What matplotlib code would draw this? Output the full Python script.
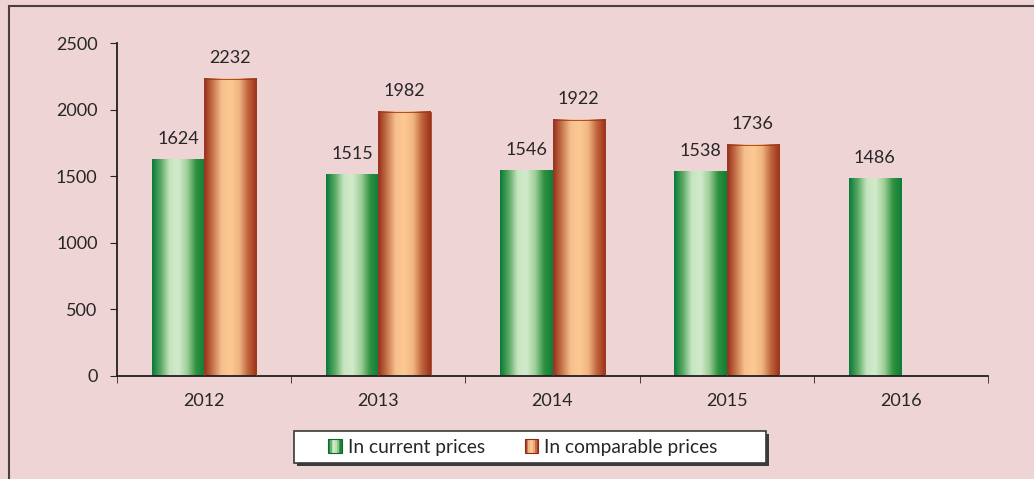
import numpy as np
import matplotlib
matplotlib.use("Agg")
import matplotlib.pyplot as plt
from matplotlib.colors import LinearSegmentedColormap
from matplotlib.patches import Rectangle
from matplotlib.legend_handler import HandlerBase
import matplotlib.patheffects as pe

years = ['2012', '2013', '2014', '2015', '2016']
current = [1624, 1515, 1546, 1538, 1486]
comparable = [2232, 1982, 1922, 1736, None]
series_names = ['In current prices', 'In comparable prices']

plt.rcParams['font.family'] = ['Lato', 'DejaVu Sans']

bg = '#efd4d5'
txt = '#262626'
fs = 13
green = LinearSegmentedColormap.from_list(
    'g', ['#067a38', '#5aa963', '#c6e5c0', '#d2ebcb', '#9fcf98', '#2f9140', '#0d7d38'])
orange = LinearSegmentedColormap.from_list(
    'o', ['#962c18', '#c7754c', '#f6c08e', '#fdc991', '#f0b582', '#c0643c', '#9a3018'])
grad = np.linspace(0, 1, 256).reshape(1, -1)

fig = plt.figure(figsize=(10.34, 4.79), dpi=100)
fig.patch.set_facecolor(bg)
W, H = 1034, 479
# outer frame (right/bottom edges sit outside the image)
fig.patches.append(Rectangle((9 / W, -0.1), 1.2, 1 - 6 / H + 0.1,
                             transform=fig.transFigure, fill=False,
                             edgecolor='#4a4042', linewidth=1.5))

ax = fig.add_axes([117 / W, 1 - 376 / H, 871 / W, 333 / H])
ax.set_facecolor(bg)

w = 0.3
x = np.arange(len(years))

def grad_bar(xl, h, cmap, edge):
    ax.imshow(grad, cmap=cmap, aspect='auto', extent=(xl, xl + w, 0, h),
              interpolation='bicubic', zorder=2)
    if edge:
        ax.add_patch(Rectangle((xl, 0), w, h, fill=False, edgecolor=edge,
                               linewidth=0.6, zorder=3))

for i in x:
    grad_bar(i - w, current[i], green, None)
    ax.annotate(str(current[i]), (i - w / 2, current[i]), xytext=(0, 9),
                textcoords='offset points', ha='center', va='bottom',
                fontsize=fs, color=txt)
    if comparable[i] is not None:
        grad_bar(i, comparable[i], orange, '#9a3a22')
        ax.annotate(str(comparable[i]), (i + w / 2, comparable[i]), xytext=(0, 9),
                    textcoords='offset points', ha='center', va='bottom',
                    fontsize=fs, color=txt)
ax.set_xlim(-0.5, len(years) - 0.5)
ax.set_ylim(0, 2500)

ax.set_xticks(x)
ax.set_xticklabels(years)
ax.set_xticks(np.arange(-0.5, len(years)), minor=True)
ax.tick_params(axis='x', which='major', length=0, pad=12, labelsize=fs, labelcolor=txt)
ax.tick_params(axis='x', which='minor', length=5, direction='out', color=txt)
ax.set_yticks(range(0, 2501, 500))
ax.tick_params(axis='y', length=5, direction='out', pad=9, labelsize=fs,
               labelcolor=txt, color=txt)
for s in ['top', 'right']:
    ax.spines[s].set_visible(False)
for s in ['left', 'bottom']:
    ax.spines[s].set_color('#231f20')
    ax.spines[s].set_linewidth(1.3)


class GradHandler(HandlerBase):
    def __init__(self, cmap, edge):
        super().__init__()
        self.cmap = cmap
        self.edge = edge

    def create_artists(self, legend, orig, xd, yd, width, height, fontsize, trans):
        n = 8
        arts = []
        for k in range(n):
            r = Rectangle((xd + width * k / n, yd), width / n + 0.3, height,
                          facecolor=self.cmap((k + 0.5) / n), edgecolor='none',
                          transform=trans)
            arts.append(r)
        arts.append(Rectangle((xd, yd), width, height, fill=False,
                              edgecolor=self.edge, linewidth=0.8, transform=trans))
        return arts


# legend box with shadow
box = Rectangle((294 / W, 1 - 463 / H), 472 / W, 32 / H, transform=fig.transFigure,
                facecolor='white', edgecolor='#3a3a3a', linewidth=1.2,
                path_effects=[pe.SimplePatchShadow(offset=(2.5, -2.5),
                                                   shadow_rgbFace='#3a3a3a', alpha=1),
                              pe.Normal()])
fig.patches.append(box)

h1 = Rectangle((0, 0), 1, 1)
h2 = Rectangle((0, 0), 1, 1)
leg = fig.legend([h1, h2], series_names, loc='center', ncol=2,
                 bbox_to_anchor=(523 / W, 1 - 447 / H), frameon=False,
                 fontsize=13.8, handlelength=0.7, handleheight=0.7,
                 handletextpad=0.3, columnspacing=2.1, borderpad=0.2,
                 labelcolor=txt,
                 handler_map={h1: GradHandler(green, '#0a6a30'),
                              h2: GradHandler(orange, '#8e2a17')})

fig.savefig('out.png', dpi=100, facecolor=bg)
